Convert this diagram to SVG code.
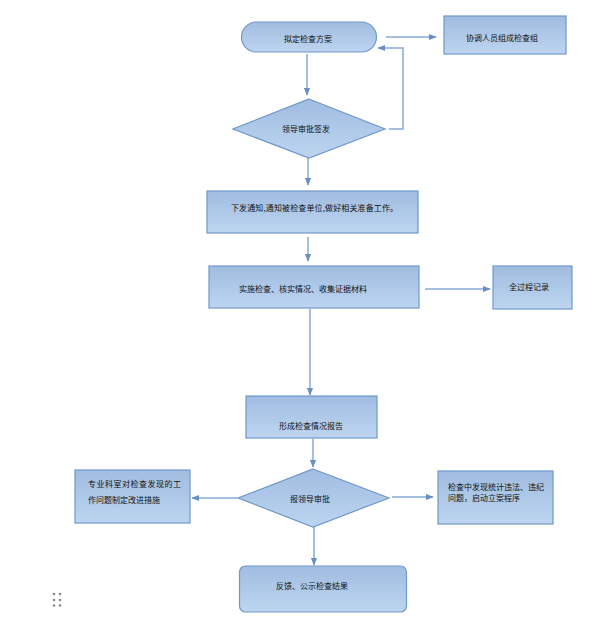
<svg xmlns="http://www.w3.org/2000/svg" width="611" height="638" viewBox="0 0 611 638">
<defs>
<linearGradient id="g" x1="0" y1="0" x2="0" y2="1">
<stop offset="0" stop-color="#a0bce0"/>
<stop offset="1" stop-color="#bdd5f0"/>
</linearGradient>
<marker id="ah" viewBox="0 0 10 10" refX="9" refY="5" markerWidth="8" markerHeight="8" markerUnits="userSpaceOnUse" orient="auto">
<path d="M0,1 L10,5 L0,9 Z" fill="#6890c4"/>
</marker>
<style>
.n{fill:url(#g);stroke:#7098c8;stroke-width:1.2}
.c{fill:none;stroke:#86aad4;stroke-width:1.5;marker-end:url(#ah)}
text{font-family:"Noto Sans CJK SC","Noto Sans",sans-serif;font-size:8px;fill:#111}
.m{text-anchor:middle}
</style>
</defs>
<rect width="611" height="638" fill="#fff"/>
<g id="connectors">
<path class="c" d="M386,37 L436,37"/>
<path class="c" d="M307,54 L307,95"/>
<path class="c" d="M389,129 L403,129 L403,48 L378,48"/>
<path class="c" d="M308,158 L308,185"/>
<path class="c" d="M308,237 L308,261"/>
<path class="c" d="M425,289 L490,289"/>
<path class="c" d="M310,309 L310,395"/>
<path class="c" d="M313,439 L313,467"/>
<path class="c" d="M237,498 L192,498"/>
<path class="c" d="M392,497 L433,497"/>
<path class="c" d="M314,527 L314,565"/>
</g>
<g id="n1"><rect class="n" x="241.5" y="22" width="135" height="30" rx="15"/><text class="m" x="308" y="42">拟定检查方案</text></g>
<g id="n2"><rect class="n" x="444" y="16" width="122" height="38"/><text class="m" x="502" y="41">协调人员组成检查组</text></g>
<g id="n3"><polygon class="n" points="309,99 385,129 309,158 233,129"/><text class="m" x="306" y="132">领导审批签发</text></g>
<g id="n4"><rect class="n" x="207" y="191" width="211" height="42"/><text x="231" y="211" textLength="167" lengthAdjust="spacing">下发通知,通知被检查单位,做好相关准备工作。</text></g>
<g id="n5"><rect class="n" x="209" y="266" width="210" height="42"/><text x="239" y="292">实施检查、核实情况、收集证据材料</text></g>
<g id="n6"><rect class="n" x="493" y="266" width="79" height="43"/><text class="m" x="529" y="290">全过程记录</text></g>
<g id="n7"><rect class="n" x="246" y="396" width="131" height="42"/><text class="m" x="311" y="429">形成检查情况报告</text></g>
<g id="n8"><polygon class="n" points="313,469 389,498 313,527 238,498"/><text class="m" x="310" y="502">报领导审批</text></g>
<g id="n9"><rect class="n" x="75" y="470" width="115" height="53"/><text x="88" y="487" textLength="93" lengthAdjust="spacing">专业科室对检查发现的工</text><text x="88" y="503">作问题制定改进措施</text></g>
<g id="n10"><rect class="n" x="438" y="471" width="115" height="53"/><text x="448" y="490">检查中发现统计违法、违纪</text><text x="448" y="501">问题，启动立案程序</text></g>
<g id="n11"><rect class="n" x="239.5" y="566" width="167" height="46" rx="6"/><text x="276" y="589">反馈、公示检查结果</text></g>
<g id="grip" fill="#888">
<circle cx="54" cy="594" r="1.3"/><circle cx="60" cy="594" r="1.3"/>
<circle cx="54" cy="600" r="1.3"/><circle cx="60" cy="600" r="1.3"/>
<circle cx="54" cy="605.5" r="1.3"/><circle cx="60" cy="605.5" r="1.3"/>
</g>
</svg>
